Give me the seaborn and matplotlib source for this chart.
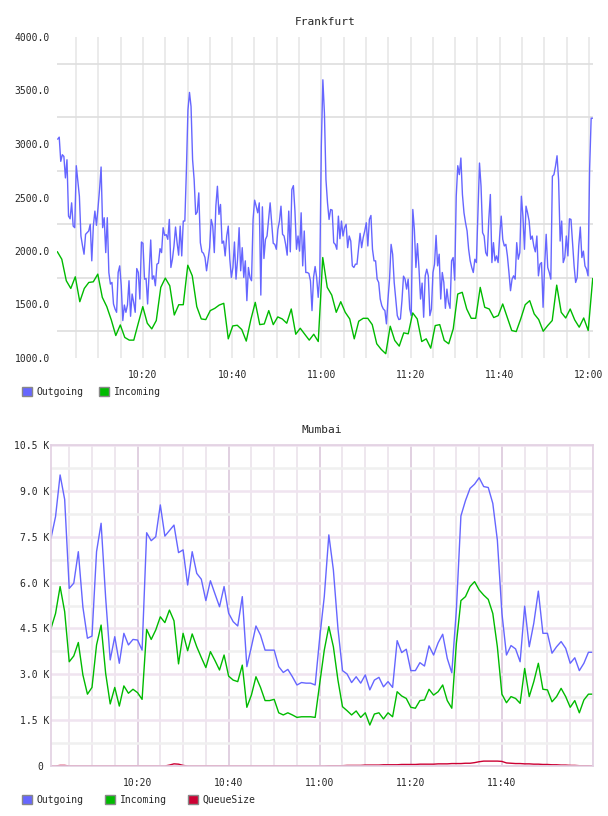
import matplotlib
matplotlib.use('Agg')
import matplotlib.pyplot as plt
import matplotlib.dates as mdates
from matplotlib.patches import Patch
from matplotlib.ticker import FixedLocator, FuncFormatter, MultipleLocator
import numpy as np
import pandas as pd
import seaborn as sns

sns.set_style('white')
plt.rcParams['font.family'] = ['DejaVu Sans Mono', 'DejaVu Sans']

DAY = '2024-01-01 '

## Frankfurt (values per sample)
fra_out_start, fra_out_end = '10:00:53', '12:00:50'
fra_in_start, fra_in_end = '10:00:48', '12:00:50'
fra_outgoing = [
    3045, 3064, 2838, 2900, 2884, 2683, 2853, 2326, 2301, 2450, 2233, 2218, 2797, 2650, 2512, 2140,
    2050, 1970, 2156, 2171, 2187, 2249, 1908, 2233, 2373, 2240, 2400, 2574, 2785, 2218, 2311, 1985,
    2311, 1799, 1691, 1706, 1505, 1458, 1427, 1799, 1861, 1675, 1350, 1495, 1427, 1495, 1722, 1390,
    1598, 1520, 1427, 1836, 1799, 1551, 2084, 2072, 1737, 1743, 1505, 1800, 2103, 1737, 1768, 1675,
    1877, 1886, 2022, 1985, 2218, 2146, 2153, 2109, 2295, 1846, 1923, 2047, 2224, 2078, 1961, 2233,
    1954, 2280, 2280, 2750, 3318, 3482, 3350, 2853,
    2667, 2342, 2364, 2543, 2078, 1992, 1979, 1939, 1815, 1923, 2031, 2295, 2233, 1985, 2419, 2605,
    2342, 2435, 2072, 2093, 1954, 2140, 2233, 1923, 1753, 1846, 2084, 1737, 1923, 2218, 1815, 2031,
    1753, 1908, 1536, 1846, 1753, 1722, 2295, 2475, 2419, 2357, 2450, 1588, 2413, 1930, 2109, 2140,
    2295, 2450, 2264, 2072, 2062, 2016, 2202, 2280, 2419, 2156, 2140, 2062, 1961, 2373, 1992, 2574,
    2611, 2373, 2016, 2140, 1999, 2357, 1861, 2187, 1799, 1799, 1790, 1722, 1443, 1753, 1855, 1753,
    1567, 1768, 2977, 3600, 3290, 2667, 2450,
    2295, 2388, 2382, 2078, 2062, 2016, 2326, 2115, 2280, 2140, 2218, 2249, 2031, 2140, 2093, 1861,
    1846, 1877, 1877, 2016, 2165, 2031, 2125, 2187, 2264, 2047, 2295, 2332, 2016, 1908, 1908, 1737,
    1706, 1551, 1489, 1458, 1443, 1319, 1551, 1737, 2062, 1970, 1706, 1551, 1396, 1359, 1365, 1536,
    1765, 1737, 1644, 1737, 1458, 1396, 2388, 2202, 1846, 2069, 1830, 1551, 1700, 1381, 1768, 1830,
    1768, 1396, 1458, 1799, 1877, 2146, 1861, 1970, 1551, 1799, 1706, 1464, 1644, 1520, 1464, 1908,
    1939, 1728, 2512, 2797, 2714, 2869, 2528, 2357,
    2264, 2187, 2016, 1908, 1846, 1799, 1923, 1892, 2357, 2822, 2605, 2171, 2140, 1985, 1954, 2295,
    2528, 1892, 2078, 1908, 1954, 1892, 2140, 2326, 2109, 2047, 2062, 1954, 1799, 1629, 1737, 1768,
    1737, 2078, 1923, 1985, 2512, 2326, 2016, 2419, 2357, 2280, 2109, 2140, 2047, 1992, 2140, 1768,
    1877, 1892, 1474, 1861, 2156, 1846, 1799, 1737, 2698, 2714, 2791, 2890, 2667, 2093, 2280, 1892,
    1939, 2140, 1954, 2301, 2295, 2078, 1861, 1706, 1753, 2047, 2224, 1939, 1999, 1861, 1830, 1768,
    2760, 3241, 3241,
]
fra_incoming = [
    1994, 1923, 1722, 1650, 1759, 1526, 1650, 1706, 1712, 1784, 1567, 1480, 1356, 1210, 1309,
    1192, 1167, 1167, 1325, 1480, 1325, 1272, 1350, 1660, 1747, 1675, 1402, 1498, 1498, 1867,
    1768, 1480, 1365, 1359, 1443, 1464, 1495, 1511, 1179, 1300, 1306, 1266, 1158, 1356, 1520,
    1312, 1318, 1443, 1312, 1384, 1365, 1325, 1458, 1222, 1278, 1222, 1167, 1222, 1154, 1939,
    1660, 1588, 1427, 1526, 1427, 1365, 1179, 1344, 1371, 1371, 1312, 1133, 1080, 1040, 1297,
    1164, 1111, 1235, 1226, 1421, 1365, 1154, 1179, 1092, 1303, 1312, 1164, 1133, 1272, 1598,
    1614, 1458, 1371, 1371, 1660, 1474, 1458, 1378, 1396, 1505, 1381, 1257, 1247, 1365, 1498,
    1536, 1412, 1359, 1250, 1303, 1350, 1681, 1427, 1374, 1458, 1356, 1288, 1374, 1257, 1743,
]
fra_ticks = ['10:20', '10:40', '11:00', '11:20', '11:40', '12:00']

## Mumbai (values in K, one per minute)
mum_start, mum_end = '10:01', '12:00'
mum_outgoing = [
    7.45, 8.16, 9.52, 8.72, 5.81, 5.98, 7.01, 5.2, 4.18, 4.25, 7.01, 7.94, 5.5, 3.47, 4.23,
    3.36, 4.34, 3.96, 4.14, 4.12, 3.79, 7.63, 7.37, 7.50, 8.54, 7.52, 7.70, 7.88, 6.98, 7.07,
    5.92, 7.01, 6.30, 6.11, 5.41, 6.06, 5.63, 5.21, 5.87, 5.0, 4.72, 4.58, 5.54, 3.25, 3.90,
    4.58, 4.28, 3.79, 3.79, 3.79, 3.25, 3.06, 3.16, 2.92, 2.65, 2.73, 2.71, 2.71, 2.65, 4.2,
    5.54, 7.56, 6.41, 4.5, 3.12, 3.01, 2.73, 2.92, 2.71, 2.98, 2.49, 2.81, 2.90, 2.59, 2.76,
    2.57, 4.10, 3.71, 3.82, 3.12, 3.12, 3.38, 3.27, 3.93, 3.63, 4.03, 4.31, 3.52, 3.05, 5.1,
    8.18, 8.68, 9.08, 9.22, 9.43, 9.14, 9.11, 8.59, 7.39, 5.0, 3.63, 3.94, 3.83, 3.41, 5.23,
    3.90, 4.67, 5.72, 4.34, 4.34, 3.69, 3.90, 4.07, 3.85, 3.36, 3.54, 3.12, 3.36, 3.72, 3.72,
]
mum_incoming = [
    4.50, 4.99, 5.87, 5.05, 3.41, 3.60, 4.04, 2.98, 2.35, 2.57, 3.96, 4.61, 3.03, 2.03, 2.57,
    1.96, 2.62, 2.38, 2.51, 2.40, 2.18, 4.47, 4.14, 4.45, 4.88, 4.69, 5.10, 4.75, 3.34, 4.34,
    3.77, 4.32, 3.90, 3.55, 3.22, 3.74, 3.45, 3.14, 3.63, 2.94, 2.81, 2.76, 3.30, 1.92, 2.32,
    2.92, 2.57, 2.14, 2.14, 2.18, 1.74, 1.67, 1.74, 1.67, 1.59, 1.61, 1.61, 1.61, 1.59, 2.70,
    3.79, 4.56, 3.90, 2.81, 1.94, 1.81, 1.67, 1.80, 1.59, 1.74, 1.34, 1.70, 1.74, 1.54, 1.74,
    1.61, 2.43, 2.29, 2.21, 1.92, 1.89, 2.14, 2.16, 2.51, 2.32, 2.43, 2.65, 2.14, 1.89, 4.01,
    5.41, 5.54, 5.87, 6.03, 5.76, 5.59, 5.45, 4.99, 3.90, 2.35, 2.07, 2.27, 2.21, 2.05, 3.19,
    2.27, 2.76, 3.36, 2.51, 2.49, 2.10, 2.27, 2.54, 2.27, 1.92, 2.14, 1.74, 2.16, 2.35, 2.35,
]
mum_queue = [
    0, 0, 0.02, 0.02, 0, 0, 0, 0, 0, 0, 0, 0, 0, 0, 0, 0, 0, 0, 0, 0, 0, 0, 0, 0, 0, 0,
    0.03, 0.07, 0.06, 0.02,
    0, 0, 0, 0, 0, 0, 0, 0, 0, 0, 0, 0, 0, 0, 0, 0, 0, 0, 0, 0, 0, 0, 0, 0, 0, 0, 0, 0, 0,
    0.00, 0.00, 0.01, 0.01, 0.01, 0.01, 0.02, 0.02, 0.02, 0.02, 0.03, 0.03, 0.03, 0.03, 0.04,
    0.04, 0.04, 0.04, 0.05, 0.05, 0.05, 0.05, 0.06, 0.06, 0.06, 0.06, 0.07, 0.07, 0.07, 0.08,
    0.08, 0.08, 0.09, 0.09,
    0.11, 0.14, 0.16, 0.16, 0.16, 0.16, 0.15,
    0.10, 0.09, 0.08, 0.08, 0.07, 0.07, 0.06, 0.06, 0.05, 0.05, 0.04, 0.04, 0.03, 0.03, 0.02,
    0.02, 0.01, 0.01, 0.01, 0.00,
]
mum_ticks = ['10:20', '10:40', '11:00', '11:20', '11:40']

OUT_C, IN_C, Q_C = '#6666ff', '#00bb00', '#cc0033'


def t(s):
    return pd.Timestamp(DAY + s)


def series(name, values, start, end):
    return pd.DataFrame({'time': pd.date_range(t(start), t(end), periods=len(values)),
                         'value': values, 'series': name})


fra = pd.concat([series('Outgoing', fra_outgoing, fra_out_start, fra_out_end),
                 series('Incoming', fra_incoming, fra_in_start, fra_in_end)])
mum = pd.concat([series('Outgoing', mum_outgoing, mum_start, mum_end),
                 series('Incoming', mum_incoming, mum_start, mum_end),
                 series('QueueSize', mum_queue, mum_start, mum_end)])
palette = {'Outgoing': OUT_C, 'Incoming': IN_C, 'QueueSize': Q_C}

fig = plt.figure(figsize=(6.08, 8.16), dpi=100)

### Frankfurt
ax1 = fig.add_axes([57 / 608, 1 - 358 / 816, 536 / 608, 321 / 816])
ax1.set_axisbelow(True)
sns.lineplot(data=fra, x='time', y='value', hue='series', palette=palette,
             linewidth=1.0, legend=False, ax=ax1)
ax1.set_xlim(t('10:00:44'), t('12:00:54'))
ax1.set_ylim(1000, 4000)
ax1.yaxis.set_major_locator(MultipleLocator(500))
ax1.yaxis.set_minor_locator(FixedLocator(np.arange(1250, 4000, 500)))
ax1.yaxis.set_major_formatter(FuncFormatter(lambda v, p: f'{v:.1f}'))
ax1.xaxis.set_major_locator(FixedLocator(mdates.date2num([t(s) for s in fra_ticks])))
ax1.xaxis.set_minor_locator(mdates.MinuteLocator(byminute=range(0, 60, 5)))
ax1.xaxis.set_major_formatter(mdates.DateFormatter('%H:%M'))
ax1.grid(False)
ax1.grid(axis='x', which='both', color='#e8e8e8', linewidth=1.2)
ax1.grid(axis='y', which='minor', color='#dedede', linewidth=1.2)
ax1.tick_params(which='both', length=0, labelsize=7)
ax1.tick_params(axis='x', pad=8.6)
ax1.tick_params(axis='y', pad=5)
for s in ax1.spines.values():
    s.set_visible(False)
ax1.set_xlabel('')
ax1.set_ylabel('')
ax1.set_title('Frankfurt', fontsize=8, pad=8.6)

fig.legend(handles=[Patch(facecolor=OUT_C, edgecolor='#888888', label='Outgoing'),
                    Patch(facecolor=IN_C, edgecolor='#888888', label='Incoming')],
           loc='center left', bbox_to_anchor=(22 / 608, 1 - 392 / 816), ncol=2,
           frameon=False, fontsize=7, handlelength=1.0, handleheight=1.0,
           handletextpad=0.5, columnspacing=1.6, borderpad=0, borderaxespad=0)

### Mumbai
ax2 = fig.add_axes([51 / 608, 1 - 766 / 816, 542 / 608, 321 / 816])
ax2.set_axisbelow(True)
sns.lineplot(data=mum, x='time', y='value', hue='series', palette=palette,
             linewidth=1.0, legend=False, ax=ax2)
ax2.set_xlim(t(mum_start), t(mum_end))
ax2.set_ylim(0, 10.5)
ax2.yaxis.set_major_locator(MultipleLocator(1.5))
ax2.yaxis.set_minor_locator(FixedLocator(np.arange(0.75, 10.5, 1.5)))
ax2.yaxis.set_major_formatter(FuncFormatter(lambda v, p: '0 ' if abs(v) < 1e-9 else f'{v:.1f} K'))
ax2.xaxis.set_major_locator(FixedLocator(mdates.date2num([t(s) for s in mum_ticks])))
ax2.xaxis.set_minor_locator(mdates.MinuteLocator(byminute=range(0, 60, 5)))
ax2.xaxis.set_major_formatter(mdates.DateFormatter('%H:%M'))
ax2.grid(False)
ax2.grid(axis='x', which='major', color='#dcc8dc', linewidth=1.2)
ax2.grid(axis='x', which='minor', color='#ebe3eb', linewidth=1.2)
ax2.grid(axis='y', which='major', color='#f0e4f0', linewidth=1.8)
ax2.grid(axis='y', which='minor', color='#f0f0f0', linewidth=1.8)
ax2.tick_params(which='both', length=0, labelsize=7)
ax2.tick_params(axis='x', pad=8.6)
ax2.tick_params(axis='y', pad=1)
for s in ax2.spines.values():
    s.set_color('#e2d0e2')
    s.set_linewidth(1.2)
ax2.set_xlabel('')
ax2.set_ylabel('')
ax2.set_title('Mumbai', fontsize=8, pad=8.6)

fig.legend(handles=[Patch(facecolor=OUT_C, edgecolor='#888888', label='Outgoing'),
                    Patch(facecolor=IN_C, edgecolor='#888888', label='Incoming'),
                    Patch(facecolor=Q_C, edgecolor='#888888', label='QueueSize')],
           loc='center left', bbox_to_anchor=(22 / 608, 1 - 800 / 816), ncol=3,
           frameon=False, fontsize=7, handlelength=1.0, handleheight=1.0,
           handletextpad=0.5, columnspacing=2.2, borderpad=0, borderaxespad=0)

fig.savefig('out.png', dpi=100)
